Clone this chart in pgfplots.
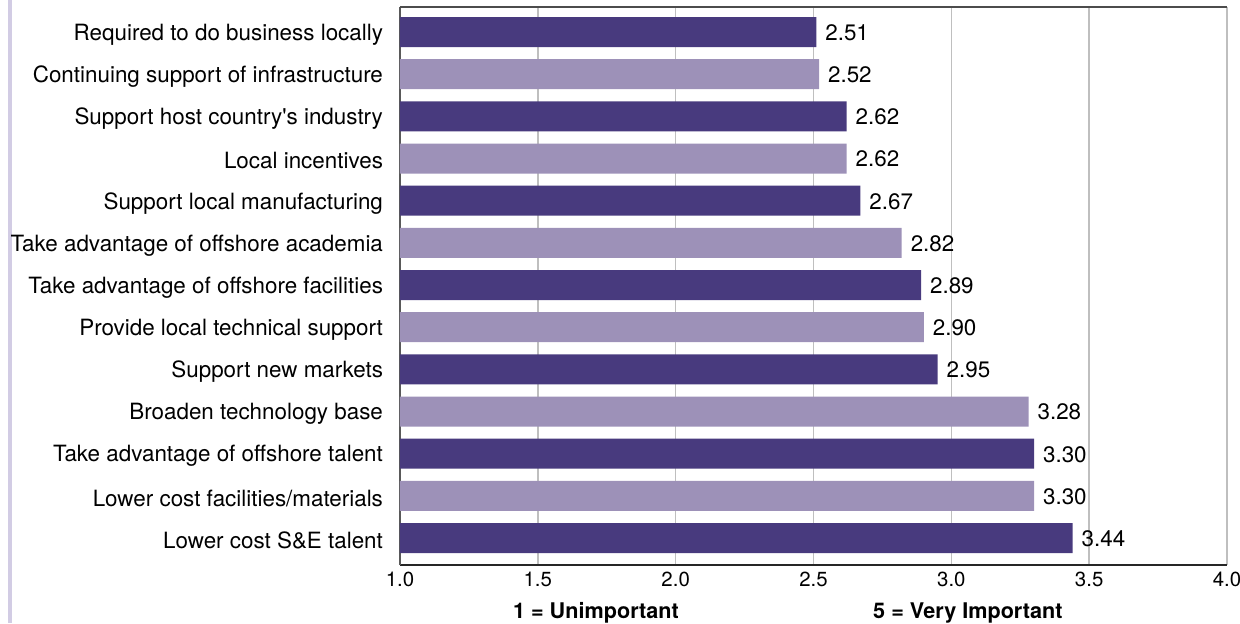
\documentclass[border=0pt]{standalone}
\usepackage{pgfplots}
\pgfplotsset{compat=1.18}
\usepackage{fontspec}
\setmainfont{TeX Gyre Heros}
\definecolor{darkp}{HTML}{483A7E}
\definecolor{lightp}{HTML}{9D91B8}
\definecolor{sideline}{HTML}{D2CCE4}
\begin{document}
\begin{tikzpicture}
\useasboundingbox (-200pt,-29pt) rectangle (420pt,282.5pt);
\draw[sideline, line width=1.6pt] (-195pt,-29pt) -- (-195pt,282.5pt);
\begin{axis}[at={(0,0)}, anchor=south west, scale only axis,
  width=413.5pt, height=279pt,
  xmin=1, xmax=4, ymin=-0.64, ymax=12.593,
  xtick={1,1.5,2,2.5,3,3.5,4},
  xticklabels={1.0,1.5,2.0,2.5,3.0,3.5,4.0},
  ytick={0,...,12},
  yticklabels={Lower cost S\&E talent, Lower cost facilities/materials, Take advantage of offshore talent, Broaden technology base, Support new markets, Provide local technical support, Take advantage of offshore facilities, Take advantage of offshore academia, Support local manufacturing, Local incentives, Support host country\textquotesingle s industry, Continuing support of infrastructure, Required to do business locally},
  major tick length=0pt,
  axis x line*=bottom, axis y line*=left,
  x axis line style={-, draw=black!85, line width=0.8pt},
  y axis line style={-, draw=black!65, line width=0.8pt},
  xmajorgrids, grid style={draw=black!25, line width=0.7pt},
  xticklabel style={font=\fontsize{10.2}{12}\selectfont},
  yticklabel style={font=\fontsize{11.2}{13}\selectfont, xshift=-5pt, yshift=-1.2pt},
  xbar, bar width=15pt, bar shift=0pt,
  point meta=explicit symbolic,
  nodes near coords,
  nodes near coords style={anchor=west, xshift=1pt, yshift=-0.3pt, font=\fontsize{11.2}{13}\selectfont, text=black},
  clip=false,
]
\addplot[draw=none, fill=darkp] coordinates {
  (2.51,12) [2.51]
  (2.62,10) [2.62]
  (2.67,8) [2.67]
  (2.89,6) [2.89]
  (2.95,4) [2.95]
  (3.30,2) [3.30]
  (3.44,0) [3.44]
};
\addplot[draw=none, fill=lightp] coordinates {
  (2.52,11) [2.52]
  (2.62,9) [2.62]
  (2.82,7) [2.82]
  (2.90,5) [2.90]
  (3.28,3) [3.28]
  (3.30,1) [3.30]
};
\draw[black!70, line width=0.8pt] (rel axis cs:0,1) -- (rel axis cs:1,1);
\node[anchor=base, font=\fontsize{10.8}{13}\selectfont\bfseries, yshift=-26.5pt] at (axis cs:1.711,-0.64) {1 = Unimportant};
\node[anchor=base, font=\fontsize{10.8}{13}\selectfont\bfseries, yshift=-26.5pt] at (axis cs:3.06,-0.64) {5 = Very Important};
\end{axis}
\end{tikzpicture}
\end{document}
